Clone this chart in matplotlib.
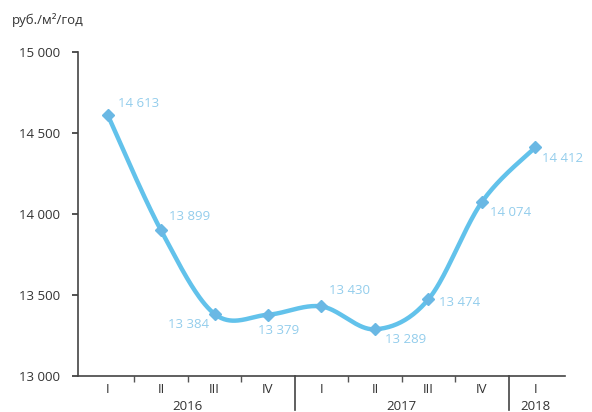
import numpy as np
import matplotlib
matplotlib.use("Agg")
import matplotlib.pyplot as plt

quarters = ["I", "II", "III", "IV", "I", "II", "III", "IV", "I"]
years = ["2016", "2017", "2018"]
values = [14613, 13899, 13384, 13379, 13430, 13289, 13474, 14074, 14412]
labels = ["14 613", "13 899", "13 384", "13 379", "13 430", "13 289", "13 474", "14 074", "14 412"]
yticks = [13000, 13500, 14000, 14500, 15000]
ytick_labels = ["13 000", "13 500", "14 000", "14 500", "15 000"]

plt.rcParams['font.family'] = ['Open Sans', 'DejaVu Sans']

def smooth_curve(x, y, per=40):
    # Catmull-Rom style Bezier smoothing (like spreadsheet "smoothed line")
    x = np.asarray(x, float); y = np.asarray(y, float)
    n = len(x)
    px = np.concatenate([[x[0]], x, [x[-1]]])
    py = np.concatenate([[y[0]], y, [y[-1]]])
    X, Y = [], []
    t = np.linspace(0, 1, per)
    for i in range(n - 1):
        p0 = np.array([px[i + 1], py[i + 1]]); p3 = np.array([px[i + 2], py[i + 2]])
        pm = np.array([px[i], py[i]]); pp = np.array([px[i + 3], py[i + 3]])
        c1 = p0 + (p3 - pm) / 6.0
        c2 = p3 - (pp - p0) / 6.0
        B = ((1 - t) ** 3)[:, None] * p0 + (3 * (1 - t) ** 2 * t)[:, None] * c1 + \
            (3 * (1 - t) * t ** 2)[:, None] * c2 + (t ** 3)[:, None] * p3
        X.append(B[:, 0]); Y.append(B[:, 1])
    return np.concatenate(X), np.concatenate(Y)

fig = plt.figure(figsize=(5.92, 4.12), dpi=100)
ax = fig.add_axes([0.132, 0.087, 0.822, 0.787])

x = np.arange(len(values))
cx, cy = smooth_curve(x, values)
line_color = "#62c2eb"
ax.plot(cx, cy, color=line_color, lw=3.2, solid_capstyle='round', zorder=2)
ax.plot(x, values, linestyle='none', marker='D', ms=6.5, color="#6ab8e4", zorder=3)

lab_color = "#93cdec"
offsets = [(10, 11, 'left'), (8, 14, 'left'), (-6, -11, 'right'), (-10, -16, 'left'),
           (8, 16, 'left'), (10, -10, 'left'), (11, -3, 'left'), (8, -10, 'left'), (7, -11, 'left')]
for xi, v, lab, (dx, dy, ha) in zip(x, values, labels, offsets):
    ax.annotate(lab, (xi, v), xytext=(dx, dy), textcoords='offset pixels', ha=ha, va='center',
                fontsize=9.5, color=lab_color)

ax.set_xlim(-0.55, 8.55)
ax.set_ylim(13000, 15000)
ax.set_yticks(yticks)
ax.set_yticklabels(ytick_labels)
ax.set_xticks(x)
ax.set_xticklabels(quarters)
ax.tick_params(axis='x', length=0, pad=5, labelsize=9.5, colors="#333333")
ax.tick_params(axis='y', length=4, width=1.2, direction='out', labelsize=9.5, colors="#333333", pad=9)
ax.set_xticks([0.5, 1.5, 2.5, 4.5, 5.5, 6.5], minor=True)
ax.tick_params(axis='x', which='minor', length=4, width=1, direction='out', color="#555555")

for s in ['top', 'right']:
    ax.spines[s].set_visible(False)
for s in ['left', 'bottom']:
    ax.spines[s].set_color("#444444")
    ax.spines[s].set_linewidth(1.2)

trans = ax.get_xaxis_transform()
for xv in [3.5, 7.5]:
    ax.plot([xv, xv], [0, -0.105], transform=trans, color="#444444", lw=1.2, clip_on=False)

for yr, xc in zip(years, [1.5, 5.5, 8.0]):
    ax.text(xc, -0.093, yr, transform=trans, ha='center', va='center', fontsize=9.5, color="#333333")

fig.text(0.02, 0.952, "руб./м²/год", fontsize=9.5, color="#333333", va='center', ha='left')

fig.savefig("out.png", dpi=100, facecolor='white')
